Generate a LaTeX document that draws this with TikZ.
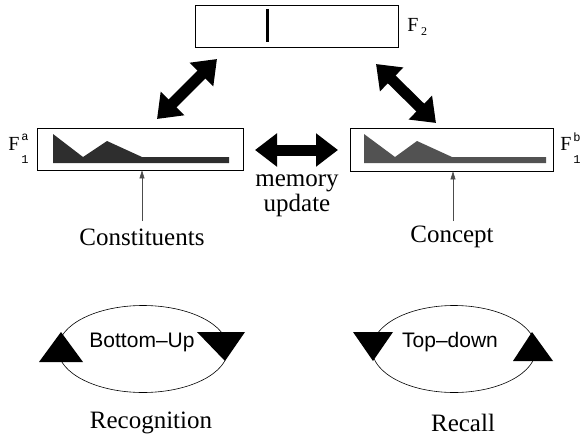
\documentclass[tikz,border=0pt]{standalone}
\usepackage{fontspec}
\setmainfont{Liberation Serif}
\newfontfamily\sansf{Liberation Sans}
\newfontfamily\monof{Liberation Mono}
\usetikzlibrary{arrows.meta,shapes.geometric}
\begin{document}
\begin{tikzpicture}[x=1pt,y=-1pt,
  layerbox/.style={draw,line width=0.8pt,inner sep=0pt},
  bigarrow/.style={line width=11pt,{Triangle[length=22pt,width=32pt]}-{Triangle[length=22pt,width=32pt]}},
  thinarr/.style={draw=black!70,line width=0.6pt,-{Triangle[length=8pt,width=5pt]}},
  lbl/.style={font=\fontsize{25}{28}\selectfont,inner sep=0pt},
  slbl/.style={font=\sansf\fontsize{21}{24}\selectfont,inner sep=0pt},
  fmain/.style={font=\fontsize{20}{22}\selectfont,inner sep=0pt},
  fidx/.style={font=\monof\fontsize{12}{13}\selectfont,inner sep=0pt},
  fsub/.style={font=\fontsize{12}{13}\selectfont,inner sep=0pt},
  loop/.style={draw,ellipse,line width=0.6pt,inner sep=0pt},
]
\useasboundingbox (0,0) rectangle (581,436);

% layers
\node[layerbox,minimum width=203pt,minimum height=42pt] (f2) at (296.5,26) {};
\node[layerbox,minimum width=206pt,minimum height=42pt] (fa) at (140,149) {};
\node[layerbox,minimum width=203pt,minimum height=43pt] (fb) at (451.5,149.5) {};

% F2 activity bar
\draw[line width=3pt] (267,9) -- (267,42);

% histograms
\fill[black!82] (53,134) -- (83,157) -- (107,141) -- (142,157) -- (229,157) -- (229,163) -- (53,163) -- cycle;
\fill[black!68] (364,134) -- (395,157) -- (417,141) -- (452,157) -- (546,157) -- (546,163) -- (364,163) -- cycle;

% layer labels
\node[fmain] (lf2) at (413,25) {F};
\node[fsub] (lf2s) at (424,32) {2};
\node[fmain] (lfa) at (14,144) {F};
\node[fidx] (lfaa) at (25,137) {a};
\node[fidx] (lfa1) at (25,160) {1};
\node[fmain] (lfb) at (566,144) {F};
\node[fidx] (lfbb) at (577,137) {b};
\node[fidx] (lfb1) at (577,160) {1};

% big double arrows
\coordinate (a1) at (157,119);
\coordinate (a2) at (217,59);
\coordinate (b1) at (376,64);
\coordinate (b2) at (436,123);
\coordinate (h1) at (255,150);
\coordinate (h2) at (338,150);
\draw[bigarrow] (a1) -- (a2);
\draw[bigarrow] (b1) -- (b2);
\draw[bigarrow] (h1) -- (h2);

\node[lbl] (mem) at (297,183) {memory};
\node[lbl] (upd) at (297,205) {update};

% inputs
\node[lbl] (cons) at (142,237) {Constituents};
\node[lbl] (conc) at (452,237) {Concept};
\coordinate (c1) at (142,221);
\coordinate (c2) at (453,221);
\draw[thinarr] (c1) -- (c1 |- fa.south);
\draw[thinarr] (c2) -- (c2 |- fb.south);

% loops
\node[loop,minimum width=170pt,minimum height=87pt] (e1) at (143,349) {};
\node[loop,minimum width=164pt,minimum height=87pt] (e2) at (454,349) {};
\fill (61,332) -- (39,362) -- (83,362) -- cycle;
\fill (197,332) -- (245,332) -- (225,361) -- cycle;
\fill (353,332) -- (393,332) -- (373,361) -- cycle;
\fill (532,332) -- (513,361) -- (553,361) -- cycle;

\node[slbl,fill=white,inner sep=1pt] (bu) at (142,342) {Bottom\textendash Up};
\node[slbl,fill=white,inner sep=1pt] (td) at (450,342) {Top\textendash down};

\node[lbl] (rec) at (151,423) {Recognition};
\node[lbl] (rcl) at (463,423) {Recall};
\end{tikzpicture}
\end{document}
